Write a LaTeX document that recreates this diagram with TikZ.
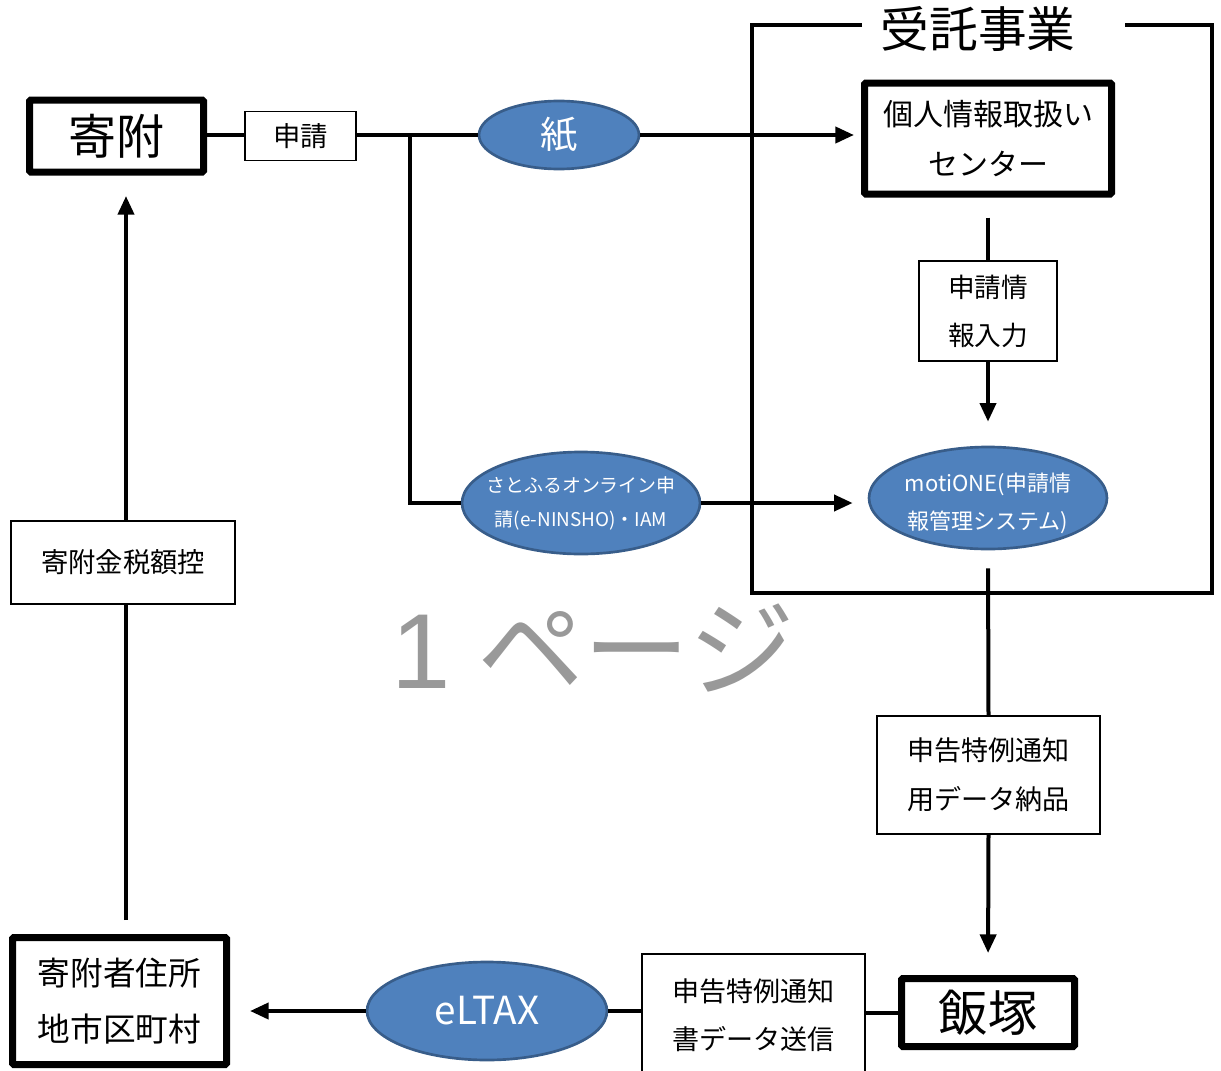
\documentclass[tikz,border=0pt]{standalone}
\usepackage{fontspec}
\setmainfont{Noto Sans CJK JP}
\newfontfamily\latfont{Liberation Sans}
\usetikzlibrary{shapes.geometric,arrows.meta}
\definecolor{blobfill}{HTML}{4F81BD}
\definecolor{blobdraw}{HTML}{385D8A}
\definecolor{pagegray}{HTML}{999999}
\newcommand\fs[2]{\fontsize{#1}{#2}\selectfont}
\begin{document}
\begin{tikzpicture}[x=0.75pt,y=-0.75pt,
  wh/.style 2 args={minimum width=#1*0.75pt, minimum height=#2*0.75pt},
  thickbox/.style={draw, line width=5.25pt, fill=white, inner sep=0pt, align=center, rounded corners=1pt},
  thinbox/.style={draw, line width=1.1pt, fill=white, inner sep=0pt, align=center},
  blob/.style={ellipse, draw=blobdraw, line width=2pt, fill=blobfill, inner sep=0pt},
  blobtext/.style={text=white, align=center, inner sep=0pt},
  conn/.style={line width=3pt},
  arr/.style={conn, -{Triangle[length=14pt,width=12pt]}},
  frame/.style={line width=3pt}]
\useasboundingbox (0,0) rectangle (1221,1071);

% frame
\draw[frame] (862,25) -- (752,25) -- (752,593) -- (1212,593) -- (1212,25) -- (1125,25);
\node[font={\fs{36.5}{40}}] (title) at (978,29) {受託事業};

% nodes
\node[thickbox, wh={174}{72}, font={\fs{36}{40}}] (kifu) at (116.5,136) {寄附};
\node[thinbox, wh={111}{49}, font={\fs{20.5}{24}}] (shinsei) at (300.5,136) {申請};
\node[blob, wh={160}{68}, label={[blobtext, font={\fs{28}{30}}]center:紙}] (kami) at (559,135) {};
\node[thickbox, wh={247}{111}, font={\fs{22.5}{38}}] (center) at (988,138.5) {個人情報取扱い\\センター};
\node[thinbox, wh={138}{100}, font={\fs{20}{36}}] (nyuryoku) at (988,311) {申請情\\報入力};
\node[blob, wh={238}{102}, label={[blobtext, font={\fs{16.5}{28.5}}, yshift=-4pt]center:{motiONE(申請情\\報管理システム)}}] (motione) at (988,498) {};
\node[blob, wh={238}{102}, label={[blobtext, font={\fs{14.2}{25.5}}]center:{さとふるオンライン申\\請(e-NINSHO)・IAM}}] (satofuru) at (581,503) {};
\node[thinbox, wh={223}{118}, font={\fs{20.3}{37}}] (tsuchi) at (988.5,775) {申告特例通知\\用データ納品};
\node[thickbox, wh={173}{68}, font={\fs{37}{40}}] (iizuka) at (988,1012.5) {飯塚};
\node[thinbox, wh={223}{122}, font={\fs{20.3}{36}}] (sousin) at (753.5,1015) {申告特例通知\\書データ送信};
\node[blob, wh={240}{98}, label={[blobtext, font={\fs{29}{32}}]center:eLTAX}] (eltax) at (487,1011) {};
\node[thickbox, wh={214}{127}, font={\fs{24.5}{42}}] (jusho) at (119.5,1001) {寄附者住所\\地市区町村};
\node[thinbox, wh={224}{83}, font={\fs{20.5}{24}}] (koujo) at (123,562.5) {寄附金税額控};
\node[text=pagegray, anchor=base west, inner sep=0pt, font={\fs{80}{84}}] (page) at (391,688) {{\latfont 1}\hspace{0.25em}ページ};

% connectors
\coordinate (br) at (410,135);
\draw[conn] (kifu.east |- br) -- (shinsei.west |- br);
\draw[conn] (shinsei.east |- br) -- (kami.west);
\draw[conn] (br) |- (satofuru.west);
\draw[arr, shorten >=7*0.75pt] (kami.east) -- (center.west |- kami.east);
\draw[conn, shorten <=20*0.75pt] (center.south) -- (nyuryoku.north);
\draw[arr, shorten >=24*0.75pt] (nyuryoku.south) -- (motione.north);
\draw[arr, shorten >=15*0.75pt] (satofuru.east) -- (motione.west |- satofuru.east);
\draw[conn, shorten <=18*0.75pt] (motione.south) -- (tsuchi.north);
\draw[arr, shorten >=22*0.75pt] (tsuchi.south) -- (iizuka.north);
\draw[conn] (iizuka.west) -- (sousin.east |- iizuka.west);
\draw[conn] (sousin.west |- eltax.east) -- (eltax.east);
\draw[arr, shorten >=20*0.75pt] (eltax.west) -- (jusho.east |- eltax.west);
\coordinate (vb) at (126,920);
\coordinate (vt) at (126,196);
\draw[conn] (vb) -- (koujo.south -| vb);
\draw[arr] (koujo.north -| vb) -- (vt);
\end{tikzpicture}
\end{document}
